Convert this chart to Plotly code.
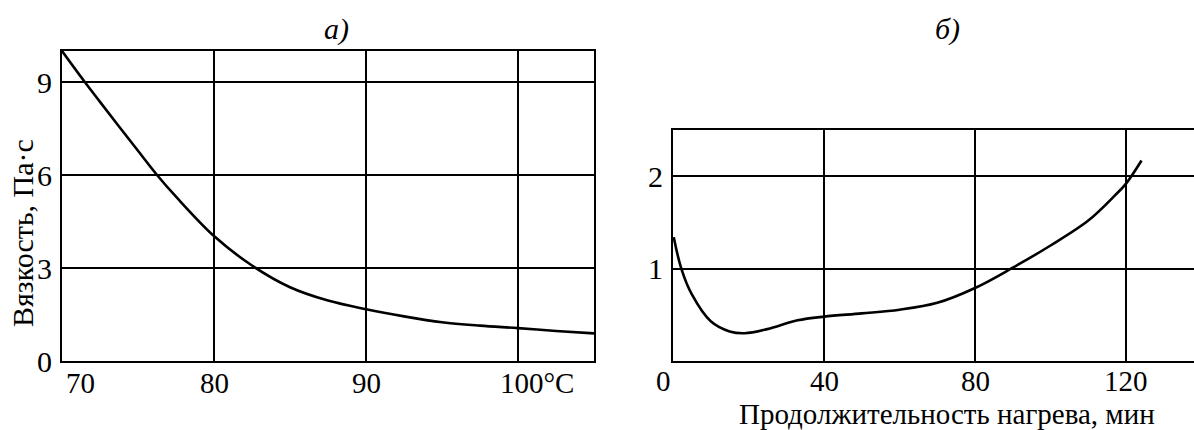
import plotly.graph_objects as go

# Panel а: viscosity vs temperature
temp_c = [70, 71.5, 72.5, 75, 76.25, 77.5, 80, 82.5, 85, 87.5, 90, 92.5, 95, 97.5, 100, 102.5, 105]
visc_a = [10.0, 9.0, 8.36, 6.78, 6.0, 5.3, 4.03, 3.08, 2.38, 1.95, 1.67, 1.44, 1.25, 1.14, 1.06, 0.97, 0.89]

# Panel б: viscosity vs heating duration
time_min = [0.2, 2.2, 5, 10, 15, 19, 25, 33, 40, 50, 60, 70, 80, 90, 100, 110, 117, 120, 124.1]
visc_b = [1.34, 1.0, 0.72, 0.43, 0.32, 0.30, 0.345, 0.44, 0.48, 0.515, 0.555, 0.63, 0.79, 1.01, 1.25, 1.52, 1.79, 1.92, 2.17]

xa_ticks = [70, 80, 90, 100]
xa_labels = ["70", "80", "90", "100°C"]
ya_ticks = [0, 3, 6, 9]
xb_ticks = [0, 40, 80, 120]
xb_labels = ["0", "40", "80", "120"]
yb_ticks = [1, 2]

FONT = "Liberation Serif, Times New Roman, serif"
FS = 30
FS_X = 29
W, H = 1194, 430

def px_x(p):
    return p / W

def px_y(p):
    return (H - p) / H

fig = go.Figure()
fig.add_trace(go.Scatter(x=temp_c, y=visc_a, mode="lines",
                         line=dict(color="black", width=2.6, shape="spline", smoothing=1.0),
                         xaxis="x", yaxis="y", showlegend=False, hoverinfo="skip"))
fig.add_trace(go.Scatter(x=time_min, y=visc_b, mode="lines",
                         line=dict(color="black", width=2.6, shape="spline", smoothing=1.0),
                         xaxis="x2", yaxis="y2", showlegend=False, hoverinfo="skip"))

ax_common = dict(showline=True, linecolor="black", linewidth=2, mirror=True,
                 showgrid=True, gridcolor="black", gridwidth=2, zeroline=False,
                 ticks="", tickfont=dict(family=FONT, size=FS, color="black"),
                 fixedrange=True, automargin=False)

BOTTOM = 361
fig.update_layout(
    width=W, height=H,
    margin=dict(l=0, r=0, t=0, b=0),
    paper_bgcolor="white", plot_bgcolor="white",
    xaxis=dict(domain=[px_x(62), px_x(594)], range=[70, 105], tickvals=xa_ticks,
               showticklabels=False, anchor="y", **ax_common),
    yaxis=dict(domain=[px_y(BOTTOM), px_y(51)], range=[0, 10], tickvals=ya_ticks,
               anchor="x", ticklabelstandoff=2, **ax_common),
    xaxis2=dict(domain=[px_x(673), 1.0], range=[0, 138], tickvals=xb_ticks,
                showticklabels=False, anchor="y2", **ax_common),
    yaxis2=dict(domain=[px_y(BOTTOM), px_y(130)], range=[0, 2.5], tickvals=yb_ticks,
                anchor="x2", ticklabelstandoff=2, **ax_common),
)

tick_font = dict(family=FONT, size=FS_X, color="black")
annotations = []
# x tick labels, panel а
for v, t in zip(xa_ticks, xa_labels):
    if v == 70:
        xanchor, xshift = "left", 2
    elif v == 100:
        xanchor, xshift = "left", -20
    else:
        xanchor, xshift = "center", 0
    annotations.append(dict(x=v, xref="x", y=px_y(383), yref="paper", text=t, showarrow=False,
                            xanchor=xanchor, yanchor="middle", xshift=xshift, font=tick_font))
# x tick labels, panel б
for v, t in zip(xb_ticks, xb_labels):
    xshift = -10 if v == 0 else 0
    annotations.append(dict(x=v, xref="x2", y=px_y(381), yref="paper", text=t, showarrow=False,
                            xanchor="center", yanchor="middle", xshift=xshift, font=tick_font))

annotations += [
    dict(x=px_x(336), y=px_y(29), xref="paper", yref="paper", text="<i>а)</i>", showarrow=False,
         xanchor="center", yanchor="middle", font=dict(family=FONT, size=FS, color="black")),
    dict(x=px_x(947), y=px_y(29), xref="paper", yref="paper", text="<i>б)</i>", showarrow=False,
         xanchor="center", yanchor="middle", font=dict(family=FONT, size=FS, color="black")),
    dict(x=px_x(22), y=px_y(233), xref="paper", yref="paper", text="Вязкость, Па·с", textangle=-90,
         showarrow=False, xanchor="center", yanchor="middle",
         font=dict(family=FONT, size=FS, color="black")),
    dict(x=px_x(947), y=px_y(414), xref="paper", yref="paper", text="Продолжительность нагрева, мин",
         showarrow=False, xanchor="center", yanchor="middle",
         font=dict(family=FONT, size=FS_X, color="black")),
]
fig.update_layout(annotations=annotations)

fig.write_html("out.html", config={"displayModeBar": False},
               post_script="document.body.style.margin='0';")
